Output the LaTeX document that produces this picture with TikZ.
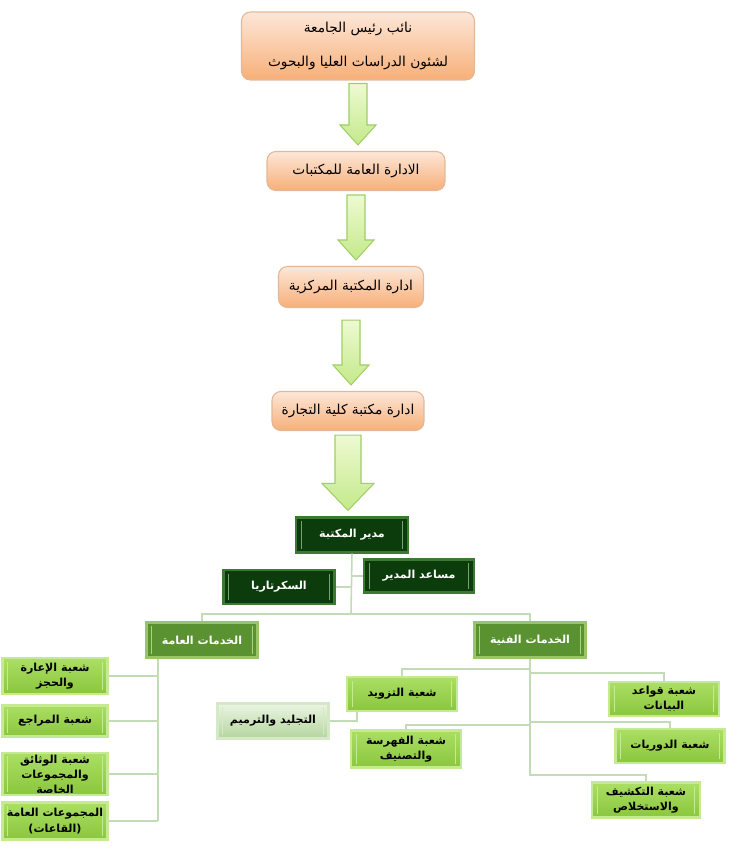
\documentclass[tikz,border=0pt]{standalone}
\usepackage{fontspec}
\usepackage{tikz}
\usetikzlibrary{calc}
\TeXXeTstate=1
\newfontfamily\arfont[Script=Arabic]{DejaVu Sans}
\newcommand{\ar}[1]{\beginR#1\endR}

\definecolor{peachtop}{HTML}{FDE7D8}
\definecolor{peachbot}{HTML}{F7AF78}
\definecolor{peachrim}{HTML}{E2B898}
\definecolor{darkgreen}{HTML}{0C3B0C}
\definecolor{darkrim}{HTML}{3C7A34}
\definecolor{midgreen}{HTML}{5B9231}
\definecolor{midrim}{HTML}{98C46A}
\definecolor{leaftop}{HTML}{ABDF64}
\definecolor{leafbot}{HTML}{8AC63E}
\definecolor{leafrim}{HTML}{C6EA92}
\definecolor{paletop}{HTML}{EAF5E2}
\definecolor{palebot}{HTML}{B4D59E}
\definecolor{palerim}{HTML}{D5E8C8}
\definecolor{arrowtop}{HTML}{EEFAD2}
\definecolor{arrowbot}{HTML}{C4E98A}
\definecolor{arrowrim}{HTML}{9FCF66}
\definecolor{linkgreen}{HTML}{C3DBB6}

\tikzset{
  bevel/.style={path picture={
    \draw[#1, line width=0.7pt]
      ([xshift=3pt,yshift=2pt]path picture bounding box.south west) --
      ([xshift=3pt,yshift=-2pt]path picture bounding box.north west);
    \draw[#1, line width=0.7pt]
      ([xshift=-3pt,yshift=2pt]path picture bounding box.south east) --
      ([xshift=-3pt,yshift=-2pt]path picture bounding box.north east);}},
  orangebox/.style={rectangle, rounded corners=5pt, draw=peachrim, line width=0.6pt,
    top color=peachtop, bottom color=peachbot, align=center, inner sep=1pt,
    font=\arfont\fontsize{7.8}{19}\selectfont},
  darkbox/.style={rectangle, draw=darkrim, line width=1.2pt, fill=darkgreen, text=white,
    align=center, inner sep=1pt, bevel=darkrim!70,
    font=\arfont\bfseries\fontsize{6.3}{8}\selectfont},
  midbox/.style={darkbox, fill=midgreen, draw=midrim, bevel=midrim!80},
  leafbox/.style={rectangle, draw=leafrim, line width=1.2pt, top color=leaftop, bottom color=leafbot,
    align=center, inner sep=1pt, bevel=leafrim,
    font=\arfont\bfseries\fontsize{6.3}{8.6}\selectfont},
  paleleaf/.style={leafbox, top color=paletop, bottom color=palebot, draw=palerim, bevel=palerim},
  link/.style={draw=linkgreen, line width=0.9pt},
  bigarrow/.style={draw=arrowrim, line width=0.6pt, top color=arrowtop, bottom color=arrowbot}
}

% #1 from, #2 to, #3 top gap, #4 half shaft, #5 half head, #6 head length
\newcommand{\blockarrow}[6]{%
  \coordinate (at) at ($(#1.south)+(0,#3)$);
  \coordinate (tip) at ($(at |- #2.north)+(0,-6)$);
  \draw[bigarrow] ($(at)+(-#4,0)$) -- ($(at)+(#4,0)$) -- ($(tip)+(#4,-#6)$)
    -- ($(tip)+(#5,-#6)$) -- (tip) -- ($(tip)+(-#5,-#6)$) -- ($(tip)+(-#4,-#6)$) -- cycle;
}

\begin{document}
\begin{tikzpicture}[x=0.02cm, y=-0.02cm]
  \useasboundingbox (0,0) rectangle (750,862);

  % upper chain
  \node[orangebox, minimum width=4.66cm, minimum height=1.36cm] (vp) at (358,46)
    {\ar{نائب رئيس الجامعة}\\ \ar{لشئون الدراسات العليا والبحوث}};
  \node[orangebox, minimum width=3.56cm, minimum height=0.78cm] (libs) at (356,171)
    {\ar{الادارة العامة للمكتبات}};
  \node[orangebox, minimum width=2.9cm, minimum height=0.82cm] (central) at (351,287)
    {\ar{ادارة المكتبة المركزية}};
  \node[orangebox, minimum width=3.04cm, minimum height=0.78cm] (college) at (348,411)
    {\ar{ادارة مكتبة كلية  التجارة}};

  % management
  \node[darkbox, minimum width=2.24cm, minimum height=0.7cm] (mgr) at (352,535) {\ar{مدير المكتبة}};
  \node[darkbox, minimum width=2.2cm, minimum height=0.66cm] (asst) at (419,576) {\ar{مساعد المدير}};
  \node[darkbox, minimum width=2.22cm, minimum height=0.68cm] (sec) at (279,587) {\ar{السكرتاريا}};
  \node[midbox, minimum width=2.22cm, minimum height=0.7cm] (gen) at (202,640) {\ar{الخدمات العامة}};
  \node[midbox, minimum width=2.22cm, minimum height=0.7cm] (tech) at (530,640) {\ar{الخدمات الفنية}};

  \blockarrow{vp}{libs}{3}{9}{18}{20}
  \blockarrow{libs}{central}{4}{9}{18}{20}
  \blockarrow{central}{college}{12}{9}{18}{20}
  \blockarrow{college}{mgr}{4}{13}{26}{27}

  \coordinate (hub) at (351,614);
  \draw[link] (mgr.south) -- (hub);
  \draw[link] (asst.west) -- (asst.west -| hub);
  \draw[link] (sec.east) -- (sec.east -| hub);
  \draw[link] (gen.north) |- (hub) -| (tech.north);

  % general services
  \node[leafbox, minimum width=2.1cm, minimum height=0.72cm] (loan) at (55,676)
    {\ar{شعبة الإعارة}\\ \ar{والحجز}};
  \node[leafbox, minimum width=2.1cm, minimum height=0.62cm] (ref) at (55,721)
    {\ar{شعبة المراجع}};
  \node[leafbox, minimum width=2.1cm, minimum height=0.84cm] (docs) at (55,774)
    {\ar{شعبة الوثائق}\\ \ar{والمجموعات}\\ \ar{الخاصة}};
  \node[leafbox, minimum width=2.1cm, minimum height=0.74cm] (halls) at (55,821)
    {\ar{المجموعات العامة}\\ \ar{(القاعات)}};

  \coordinate (gtrunk) at (158,821);
  \draw[link] (gen.south -| gtrunk) -- (gtrunk);
  \foreach \n in {loan,ref,docs,halls}
    \draw[link] (\n.east) -- (\n.east -| gtrunk);

  % technical services
  \node[leafbox, minimum width=2.2cm, minimum height=0.68cm] (supply) at (402,694)
    {\ar{شعبة التزويد}};
  \node[paleleaf, minimum width=2.22cm, minimum height=0.7cm] (binding) at (273,721)
    {\ar{التجليد والترميم}};
  \node[leafbox, minimum width=2.2cm, minimum height=0.74cm] (catalog) at (406,749)
    {\ar{شعبة الفهرسة}\\ \ar{والتصنيف}};
  \node[leafbox, minimum width=2.2cm, minimum height=0.68cm] (db) at (664,699)
    {\ar{شعبة قواعد}\\ \ar{البيانات}};
  \node[leafbox, minimum width=2.18cm, minimum height=0.68cm] (period) at (670,746)
    {\ar{شعبة الدوريات}};
  \node[leafbox, minimum width=2.16cm, minimum height=0.7cm] (index) at (646,800)
    {\ar{شعبة التكشيف}\\ \ar{والاستخلاص}};

  \coordinate (ttrunk) at (530,775);
  \draw[link] (tech.south) -- (ttrunk) -| (index.north);
  \draw[link] (tech.south |- 0,669) -| (supply.north);
  \draw[link] (tech.south |- 0,673) -| (db.north);
  \draw[link] (tech.south |- 0,725) -| (catalog.north);
  \draw[link] (tech.south |- 0,722) -| (period.north);
  \coordinate (bind) at (357,722);
  \draw[link] (supply.south -| bind) |- (binding.east);
\end{tikzpicture}
\end{document}
